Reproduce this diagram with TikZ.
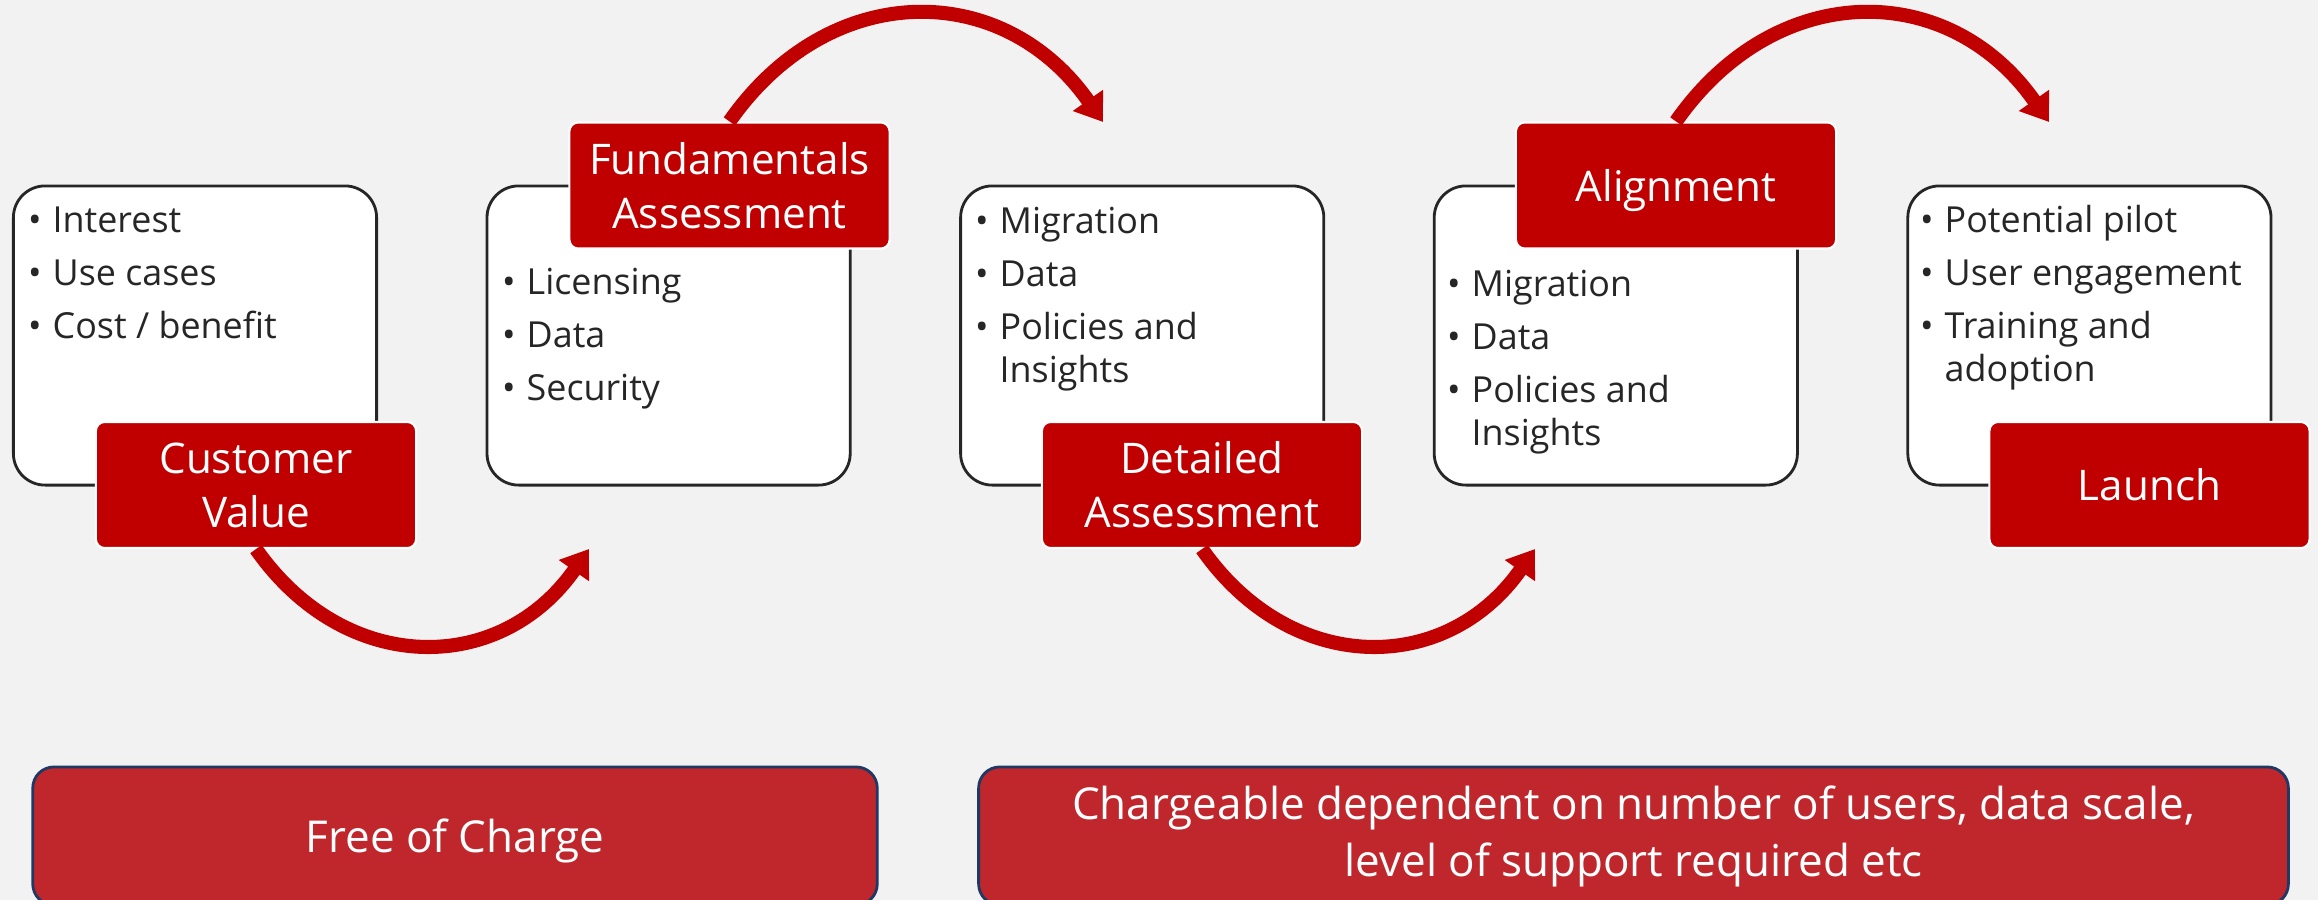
\documentclass[tikz,border=0pt]{standalone}
\usepackage{fontspec}
\setmainfont{Open Sans}
\usetikzlibrary{arrows.meta}

\definecolor{bgcol}{HTML}{F2F2F2}
\definecolor{deepred}{HTML}{C00000}
\definecolor{barred}{HTML}{C0272D}
\definecolor{navy}{HTML}{1F3864}
\definecolor{inkgray}{HTML}{262626}

\newcommand{\bul}{\makebox[5.4pt][l]{\hspace*{-1.6pt}\textbullet}}
\newcommand{\cont}{\hspace*{5.4pt}}

\tikzset{
  stagebox/.style={draw=inkgray, line width=0.8pt, fill=white, rounded corners=9pt,
    minimum width=3.63cm, minimum height=2.99cm},
  stagelabel/.style={draw=white, line width=0.6pt, fill=deepred, text=white,
    rounded corners=2.5pt, minimum width=3.2cm, minimum height=1.26cm, align=center,
    font=\fontsize{12}{15.4}\selectfont},
  bullets/.style={anchor=base west, inner sep=0pt, align=left, text=inkgray,
    font=\fontsize{10.2}{12.2}\selectfont},
  pricebar/.style={draw=navy, line width=0.8pt, fill=barred, text=white,
    rounded corners=6pt, minimum height=1.38cm, align=center,
    font=\fontsize{12.5}{16.2}\selectfont},
  flow/.style={draw=deepred, line width=4pt, -{Triangle[length=7.5pt,width=10pt]}},
}

\begin{document}
\begin{tikzpicture}[x=0.01cm, y=-0.01cm]
\useasboundingbox[fill=bgcol] (0,0) rectangle (2318,900);

% stage boxes
\node[stagebox] (box1) at (195,335.5) {};
\node[stagebox] (box2) at (668.6,335.5) {};
\node[stagebox] (box3) at (1142.2,335.5) {};
\node[stagebox] (box4) at (1615.8,335.5) {};
\node[stagebox] (box5) at (2089.4,335.5) {};

% bullet lists (placed at the baseline of their last line)
\node[bullets] (list1) at (33,338) {\bul Interest\\[2.85pt]\bul Use cases\\[2.85pt]\bul Cost / benefit};
\node[bullets] (list2) at (507,400) {\bul Licensing\\[2.85pt]\bul Data\\[2.85pt]\bul Security};
\node[bullets] (list3) at (980,382) {\bul Migration\\[2.85pt]\bul Data\\[2.85pt]\bul Policies and\\\cont Insights};
\node[bullets] (list4) at (1452,445) {\bul Migration\\[2.85pt]\bul Data\\[2.85pt]\bul Policies and\\\cont Insights};
\node[bullets] (list5) at (1925,381) {\bul Potential pilot\\[2.85pt]\bul User engagement\\[2.85pt]\bul Training and\\\cont adoption};

% stage labels
\node[stagelabel] (cv) at (256,485) {Customer\\Value};
\node[stagelabel] (fa) at (729.5,185.5) {Fundamentals\\Assessment};
\node[stagelabel] (da) at (1202,485) {Detailed\\Assessment};
\node[stagelabel, text depth=0pt] (al) at (1676,185.5) {Alignment};
\node[stagelabel] (la) at (2149.5,485) {Launch};

% curved arrows
\coordinate (t1) at (589,549);
\coordinate (t2) at (1103,122);
\coordinate (t3) at (1535,549);
\coordinate (t4) at (2049,122);
\draw[flow] (cv.south) .. controls +(89,127) and +(-89,127) .. (t1);
\draw[flow] (fa.north) .. controls +(100,-143) and +(-100,-143) .. (t2);
\draw[flow] (da.south) .. controls +(89,127) and +(-89,127) .. (t3);
\draw[flow] (al.north) .. controls +(100,-143) and +(-100,-143) .. (t4);

% pricing bars
\node[pricebar, minimum width=8.44cm, text depth=0pt] (free) at (455,836) {Free of Charge};
\node[pricebar, minimum width=13.09cm] (paid) at (1633.5,836) {Chargeable dependent on number of users, data scale,\\level of support required etc};
\end{tikzpicture}
\end{document}
